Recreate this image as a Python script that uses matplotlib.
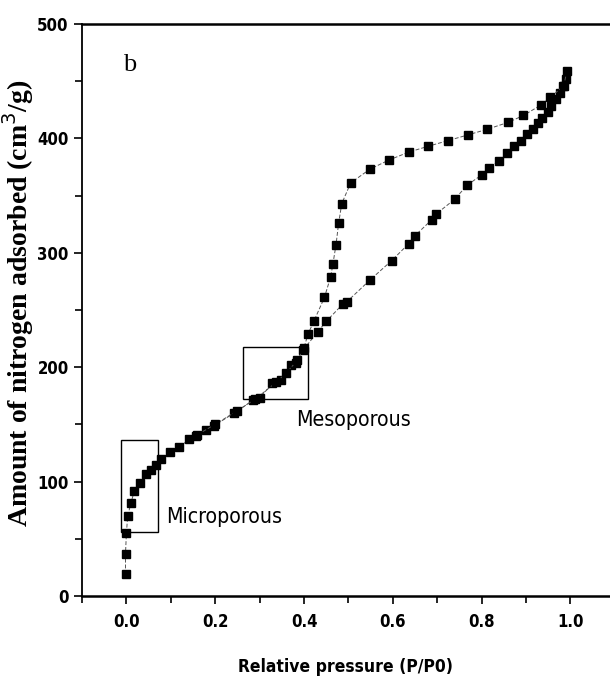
import os
import matplotlib
matplotlib.use('Agg')
import matplotlib.pyplot as plt
from matplotlib import font_manager as fm
from matplotlib.patches import Rectangle
from matplotlib.ticker import MultipleLocator

# Adsorption branch (P/P0, cm3/g)
ads_x = [-0.002, -0.002, 0.0, 0.003, 0.01, 0.018, 0.03, 0.044, 0.055, 0.066,
         0.079, 0.098, 0.118, 0.142, 0.157, 0.18, 0.198, 0.243, 0.285, 0.30,
         0.329, 0.348, 0.37, 0.381, 0.398, 0.431, 0.45, 0.487, 0.496, 0.548,
         0.597, 0.636, 0.65, 0.688, 0.698, 0.74, 0.767, 0.80, 0.816, 0.838,
         0.857, 0.872, 0.888, 0.903, 0.916, 0.927, 0.937, 0.949, 0.957, 0.968,
         0.977, 0.983, 0.99]
ads_y = [19, 37, 55, 70, 81, 92, 99, 107, 110, 114.5,
         120, 126, 130, 137, 140, 145, 149, 160, 171, 173,
         186, 189, 202, 204, 215, 231, 240, 255, 257, 276,
         293, 308, 315, 329, 334, 347, 359, 368, 374, 380,
         387, 393, 398, 404, 408, 413, 418, 423, 428, 434,
         440, 446, 452]

# Desorption branch
des_x = [0.992, 0.985, 0.955, 0.933, 0.894, 0.86, 0.813, 0.769, 0.724, 0.679,
         0.636, 0.591, 0.548, 0.505, 0.485, 0.478, 0.472, 0.465, 0.46, 0.446,
         0.422, 0.409, 0.40, 0.385, 0.36, 0.338, 0.29, 0.25, 0.20, 0.16]
des_y = [459, 446, 436, 429, 420, 414, 408, 403, 398, 393,
         388, 381, 373, 361, 343, 326, 307, 290, 279, 261,
         240, 229, 217, 206, 195, 187, 172, 162, 150, 141]

# Highlight boxes: (x0, y0, width, height)
micro_box = (-0.013, 56, 0.085, 80)
meso_box = (0.262, 172, 0.148, 46)


def find_narrow(bold):
    """look for a condensed / narrow sans font file, return path or None"""
    ranking = ['liberationsansnarrow', 'arialn', 'dejavusanscondensed',
               'notosans-condensed', 'robotocondensed', 'opensans']
    found = []
    for f in fm.fontManager.ttflist:
        fn = os.path.basename(f.fname).lower()
        if not ('narrow' in fn or 'condensed' in fn):
            continue
        if 'semicondensed' in fn or 'extracondensed' in fn:
            continue
        if any(k in fn for k in ('italic', 'oblique', 'mono', 'serif')):
            continue
        if bold:
            if 'bold' not in fn or any(k in fn for k in ('semi', 'extra', 'demi')):
                continue
        else:
            if any(k in fn for k in ('bold', 'light', 'thin', 'medium', 'black')):
                continue
        rank = len(ranking)
        for i, key in enumerate(ranking):
            if key in fn.replace('_', '').replace(' ', ''):
                rank = i
                break
        found.append((rank, f.fname))
    if not found:
        return None
    found.sort()
    return found[0][1]


bold_path = find_narrow(True)
reg_path = find_narrow(False)
scale = 1.0 if bold_path else 0.9


def sans_fp(size, bold=False):
    path = bold_path if bold else reg_path
    if path:
        return fm.FontProperties(fname=path, size=size)
    return fm.FontProperties(family=['Liberation Sans', 'DejaVu Sans'],
                             weight='bold' if bold else 'normal', size=size * scale)


serif = ['Liberation Serif', 'DejaVu Serif']

fig = plt.figure(figsize=(6.1, 6.84), dpi=100)
ax = fig.add_axes([0.1344, 0.1287, 0.8656, 0.8363])

line_kw = dict(color='#555555', lw=0.7, linestyle=(0, (4, 2)),
               marker='s', ms=6.2, mfc='black', mec='black')
ax.plot(ads_x, ads_y, **line_kw)
ax.plot(des_x, des_y, **line_kw)

for bx in (micro_box, meso_box):
    ax.add_patch(Rectangle((bx[0], bx[1]), bx[2], bx[3], fill=False,
                           edgecolor='black', lw=1.0))

ax.text(0.09, 69, 'Microporous', fontproperties=sans_fp(15.3), va='center', ha='left')
ax.text(0.383, 154, 'Mesoporous', fontproperties=sans_fp(15.3), va='center', ha='left')
ax.text(-0.008, 464, 'b', family=serif, fontsize=19, va='center', ha='left')

ax.set_xlim(-0.1, 1.089)
ax.set_ylim(0, 500)
ax.xaxis.set_minor_locator(MultipleLocator(0.1))
ax.yaxis.set_major_locator(MultipleLocator(100))
ax.yaxis.set_minor_locator(MultipleLocator(50))
ax.set_xticks([0.0, 0.2, 0.4, 0.6, 0.8, 1.0])
ax.set_xticklabels(['0.0', '0.2', '0.4', '0.6', '0.8', '1.0'])

for sp in ('left', 'bottom', 'top'):
    ax.spines[sp].set_linewidth(1.8)
ax.spines['left'].set_linewidth(1.3)
ax.spines['right'].set_visible(False)

ax.tick_params(which='both', direction='out', top=False, right=False, width=1.2)
ax.tick_params(which='major', length=6)
ax.tick_params(axis='y', which='major', pad=3.5)
ax.tick_params(axis='x', which='major', pad=6)
ax.tick_params(which='minor', length=5)
tick_fp = sans_fp(12, bold=True)
for lab in ax.get_xticklabels() + ax.get_yticklabels():
    lab.set_fontproperties(tick_fp)

ax.set_xlabel('Relative pressure (P/P0)', fontproperties=sans_fp(12.5, bold=True))
ax.xaxis.set_label_coords(0.5, -0.108)
ax.set_ylabel('Amount of nitrogen adsorbed (cm$^3$/g)', family=serif,
              fontsize=20, fontweight='bold')
ax.yaxis.set_label_coords(-0.088, 0.512)

fig.savefig('out.png', dpi=100)
